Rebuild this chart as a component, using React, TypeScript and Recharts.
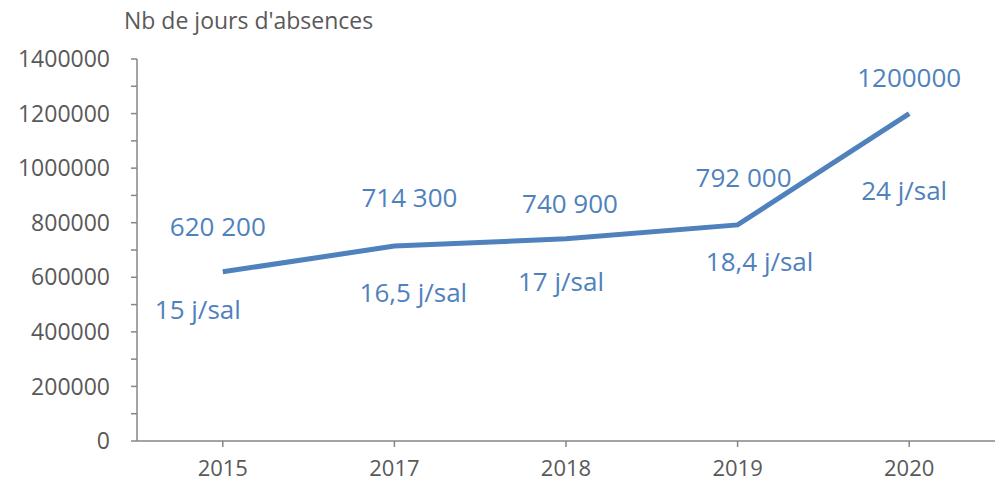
import React from 'react';
import { LineChart, Line, XAxis, YAxis, LabelList } from 'recharts';

const years = ['2015', '2017', '2018', '2019', '2020'];
const absenceDays = [620200, 714300, 740900, 792000, 1200000];
const absenceLabels = ['620 200', '714 300', '740 900', '792 000', '1200000'];
const daysPerEmployee = ['15 j/sal', '16,5 j/sal', '17 j/sal', '18,4 j/sal', '24 j/sal'];
const yTicks = [0, 100000, 200000, 300000, 400000, 500000, 600000, 700000, 800000, 900000, 1000000, 1100000, 1200000, 1300000, 1400000];

// label placement tweaks (layout only)
const valueOffsets = [[-5, -46], [15, -49], [4, -36], [6, -48], [0, -37]];
const dayOffsets = [[-25, 37], [19, 46], [-5, 42], [22, 36], [-5, 76]];

const data = years.map((y, i) => ({ year: y, value: absenceDays[i] }));

const FONT = '"Open Sans", sans-serif';
const LABEL_COLOR = '#4F81BD';
const TEXT_COLOR = '#595959';
const AXIS_COLOR = '#868686';

const makeLabel = (texts: string[], offsets: number[][]) => (props: any) => {
  const { x, y, index } = props;
  const [dx, dy] = offsets[index];
  return (
    <text
      x={x + dx}
      y={y + dy}
      textAnchor="middle"
      dominantBaseline="central"
      fill={LABEL_COLOR}
      fontFamily={FONT}
      fontSize={26}
    >
      {texts[index]}
    </text>
  );
};

export default function App() {
  return (
    <div style={{ position: 'absolute', left: 0, top: 0, width: 1000, height: 487, background: '#fff' }}>
      <div
        style={{
          position: 'absolute',
          left: 124,
          top: 4,
          fontFamily: FONT,
          fontSize: 23,
          color: TEXT_COLOR,
          whiteSpace: 'nowrap',
        }}
      >
        Nb de jours d'absences
      </div>
      <LineChart width={1000} height={487} data={data} margin={{ top: 59, right: 5, bottom: 16, left: 0 }}>
        <XAxis
          dataKey="year"
          padding={{ left: 85.8, right: 85.8 }}
          stroke={AXIS_COLOR}
          strokeWidth={1.5}
          tickSize={6}
          tickMargin={13}
          tick={{ fill: TEXT_COLOR, fontFamily: FONT, fontSize: 22 }}
          interval={0}
        />
        <YAxis
          width={137}
          domain={[0, 1400000]}
          ticks={yTicks}
          interval={0}
          stroke={AXIS_COLOR}
          strokeWidth={1.5}
          tickSize={6}
          tickMargin={21}
          tickFormatter={(v: number) => (v % 200000 === 0 ? String(v) : '')}
          tick={{ fill: TEXT_COLOR, fontFamily: FONT, fontSize: 23 }}
        />
        <Line
          type="linear"
          dataKey="value"
          stroke="#4F81BD"
          strokeWidth={5}
          dot={false}
          activeDot={false}
          isAnimationActive={false}
        >
          <LabelList dataKey="value" content={makeLabel(absenceLabels, valueOffsets)} />
          <LabelList dataKey="value" content={makeLabel(daysPerEmployee, dayOffsets)} />
        </Line>
      </LineChart>
    </div>
  );
}
